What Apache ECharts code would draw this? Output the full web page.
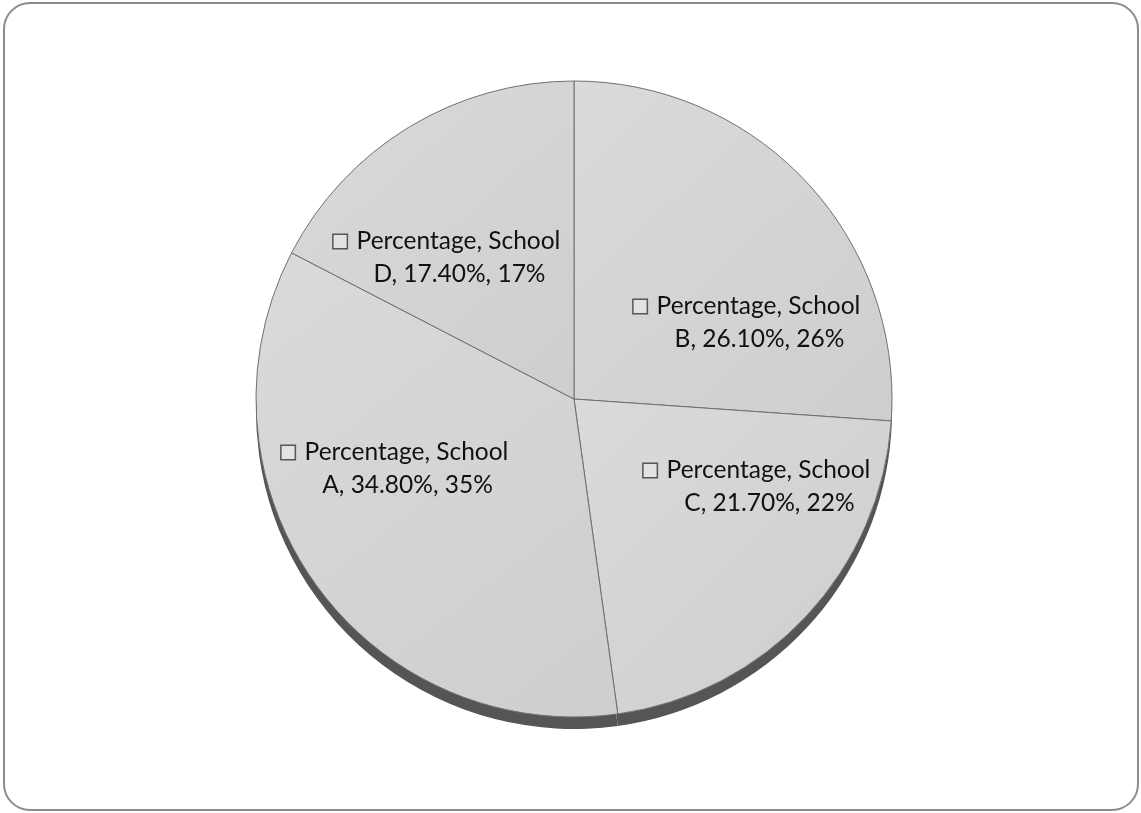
<!DOCTYPE html>
<html><head><meta charset="utf-8">
<script src="https://cdn.jsdelivr.net/npm/echarts@6/dist/echarts.min.js"></script>
<style>html,body{margin:0;padding:0;background:#fff}#c{width:1141px;height:813px}</style>
</head><body><div id="c"></div>
<script>
// ---- data ----
const seriesName = 'Percentage';
const categories = ['School B', 'School C', 'School A', 'School D'];
const values = [26.1, 21.7, 34.8, 17.4];

// ---- layout (not data) ----
const CX = 574, CY = 399, R = 318;
const labelPos = [[747, 323], [757, 487], [395, 469], [447, 258]];

const chart = echarts.init(document.getElementById('c'), null, {renderer: 'canvas'});
const pieData = categories.map((c, i) => ({name: c, value: values[i]}));

const fillGrad = new echarts.graphic.LinearGradient(0, 0, 1, 1, [
  {offset: 0, color: '#dadada'},
  {offset: 1, color: '#cecece'}
]);

chart.setOption({
  backgroundColor: '#ffffff',
  animation: false,
  graphic: [{
    type: 'rect', silent: true, z: 100,
    shape: {x: 4, y: 3, width: 1134, height: 807, r: 26},
    style: {fill: 'none', stroke: '#8c8c8c', lineWidth: 2}
  }],
  series: [{
    type: 'pie', silent: true, z: 1,
    center: [CX, CY + 12], radius: R,
    startAngle: 90, clockwise: true,
    data: pieData,
    itemStyle: {color: '#555555', borderWidth: 0},
    label: {show: false}, labelLine: {show: false},
    emphasis: {disabled: true}
  }, {
    type: 'pie', name: seriesName, z: 2,
    center: [CX, CY], radius: R,
    startAngle: 90, clockwise: true,
    data: pieData,
    itemStyle: {color: fillGrad, borderColor: '#707070', borderWidth: 1},
    emphasis: {disabled: true},
    labelLine: {show: false},
    label: {
      show: true, position: 'inside',
      fontFamily: 'Lato', fontSize: 24.5, color: '#111111', lineHeight: 33,
      formatter: function (p) {
        const parts = p.name.split(' ');
        const pct = Math.round(p.percent);
        return '{box| }{gap| }{t|' + seriesName + ', ' + parts[0] + '}\n' +
               '{sp| }{t|' + parts[1] + ', ' + p.value.toFixed(2) + '%, ' + pct + '%}';
      },
      rich: {
        box: {width: 13, height: 13, borderColor: '#555555', borderWidth: 1.5, backgroundColor: '#e2e2e2'},
        gap: {width: 10},
        sp: {width: 25},
        t: {fontFamily: 'Lato', fontSize: 24.5, color: '#111111', lineHeight: 33}
      }
    },
    labelLayout: function (p) {
      const pos = labelPos[p.dataIndex];
      return {x: pos[0], y: pos[1]};
    }
  }]
});
</script></body></html>
